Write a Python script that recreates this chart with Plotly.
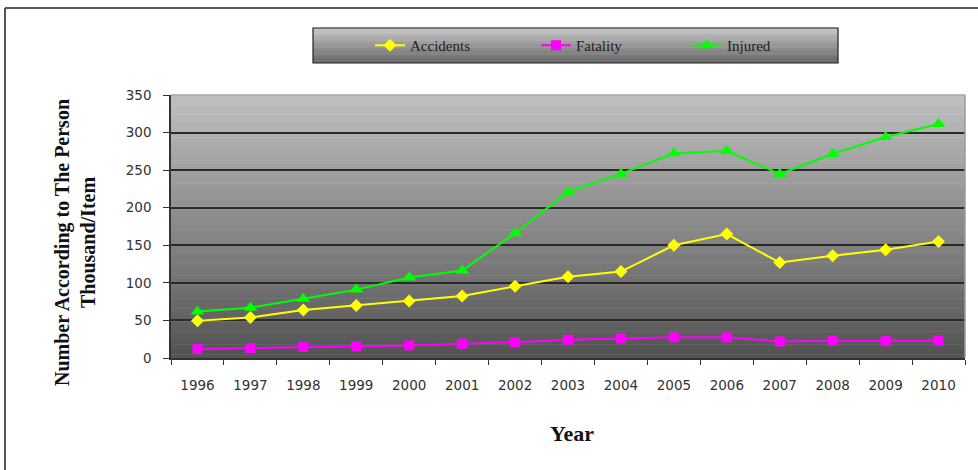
import plotly.graph_objects as go

years = ["1996", "1997", "1998", "1999", "2000", "2001", "2002", "2003",
         "2004", "2005", "2006", "2007", "2008", "2009", "2010"]
accidents = [49.5, 54, 64, 70, 76, 82.5, 95.5, 108, 115, 150, 165, 127, 136, 144, 155]
fatality = [12, 13.3, 14.6, 15.4, 16.8, 19, 21, 24.3, 26, 27.5, 27.5, 22, 23, 22.5, 23]
injured = [62, 67, 79, 91, 107, 116.5, 166, 221, 245, 272.5, 275.5, 245, 271.5, 294, 311.5]

W, H = 978, 470
L, R, T, B = 171, 13, 95, 112
PW, PH = W - L - R, H - T - B


def px(x):
    return (x - L) / PW


def py(y):
    return (H - B - y) / PH


fig = go.Figure()
fig.add_trace(go.Scatter(x=years, y=accidents, name="Accidents", mode="lines+markers",
                         line=dict(color="#FFFF00", width=2),
                         marker=dict(symbol="diamond", size=10, color="#FFFF00"),
                         legendwidth=121))
fig.add_trace(go.Scatter(x=years, y=fatality, name="Fatality", mode="lines+markers",
                         line=dict(color="#FF00FF", width=2),
                         marker=dict(symbol="square", size=10, color="#FF00FF"),
                         legendwidth=106))
fig.add_trace(go.Scatter(x=years, y=injured, name="Injured", mode="lines+markers",
                         line=dict(color="#00FF00", width=2),
                         marker=dict(symbol="triangle-up", size=12, color="#00FF00"),
                         legendwidth=60))

shapes = []
# plot area vertical gradient
N = 80
top_c, bot_c = (192, 192, 192), (82, 82, 82)
for i in range(N):
    f = (i + 0.5) / N
    c = tuple(int(round(bot_c[k] + (top_c[k] - bot_c[k]) * f)) for k in range(3))
    shapes.append(dict(type="rect", xref="x domain", yref="y domain",
                       x0=0, x1=1, y0=i / N, y1=(i + 1) / N + 0.002,
                       fillcolor="rgb(%d,%d,%d)" % c, line=dict(width=0), layer="below"))
# plot area top / right border
shapes.append(dict(type="line", xref="x domain", yref="y domain", x0=0, x1=1, y0=1, y1=1,
                   line=dict(color="#a8a8a8", width=1.5)))
shapes.append(dict(type="line", xref="x domain", yref="y domain", x0=1, x1=1, y0=0, y1=1,
                   line=dict(color="#9a9a9a", width=1.5)))
# legend box gradient
lx0, lx1, ly0, ly1 = 313, 838, 28, 63
M = 30
ltop, lbot = (200, 200, 200), (100, 100, 100)
for i in range(M):
    f = (i + 0.5) / M
    c = tuple(int(round(lbot[k] + (ltop[k] - lbot[k]) * f)) for k in range(3))
    ya = ly1 - (ly1 - ly0) * i / M
    yb = ly1 - (ly1 - ly0) * (i + 1) / M
    shapes.append(dict(type="rect", xref="paper", yref="paper",
                       x0=px(lx0), x1=px(lx1), y0=py(ya), y1=py(yb) + 0.002,
                       fillcolor="rgb(%d,%d,%d)" % c, line=dict(width=0), layer="above"))
shapes.append(dict(type="rect", xref="paper", yref="paper",
                   x0=px(lx0), x1=px(lx1), y0=py(ly0), y1=py(ly1),
                   line=dict(color="#222222", width=1.2), layer="above"))
# outer frame (top and left)
shapes.append(dict(type="line", xref="paper", yref="paper",
                   x0=px(5), x1=px(990), y0=py(8), y1=py(8),
                   line=dict(color="#555555", width=2)))
shapes.append(dict(type="line", xref="paper", yref="paper",
                   x0=px(5), x1=px(5), y0=py(8), y1=py(480),
                   line=dict(color="#555555", width=2)))

annotations = [
    dict(text="<b>Number According to The Person</b><br><b>Thousand/Item</b>", textangle=-90,
         xref="paper", yref="paper", x=px(75), y=py(243), showarrow=False,
         font=dict(family="Liberation Serif", size=20, color="#111111"),
         xanchor="center", yanchor="middle"),
    dict(text="<b>Year</b>", xref="paper", yref="paper", x=px(572), y=py(433), showarrow=False,
         font=dict(family="Liberation Serif", size=22, color="#111111"),
         xanchor="center", yanchor="middle"),
]

fig.update_layout(
    width=W, height=H,
    margin=dict(l=L, r=R, t=T, b=B),
    paper_bgcolor="white",
    plot_bgcolor="rgba(0,0,0,0)",
    shapes=shapes,
    annotations=annotations,
    showlegend=True,
    legend=dict(orientation="h", xref="container", yref="container",
                x=370 / W, y=1 - 45.5 / H, xanchor="left", yanchor="middle",
                bgcolor="rgba(0,0,0,0)", borderwidth=0,
                font=dict(family="Liberation Serif", size=15, color="#222222")),
    xaxis=dict(type="category", range=[-0.5, 14.5], tickson="boundaries",
               ticks="outside", ticklen=5,
               tickcolor="#333333", showline=True, linecolor="#333333", linewidth=1.5,
               showgrid=False, ticklabelstandoff=14,
               tickfont=dict(family="DejaVu Sans", size=13.5, color="#333333")),
    yaxis=dict(range=[0, 350], dtick=50, ticks="outside", ticklen=6,
               tickcolor="#333333", showline=True, linecolor="#333333", linewidth=1.5,
               showgrid=True, gridcolor="#2a2a2a", gridwidth=1.5, zeroline=False,
               ticklabelstandoff=9,
               tickfont=dict(family="DejaVu Sans", size=13.5, color="#333333")),
)

fig.write_html("out.html", config={"displayModeBar": False},
               post_script="document.body.style.margin='0';")
